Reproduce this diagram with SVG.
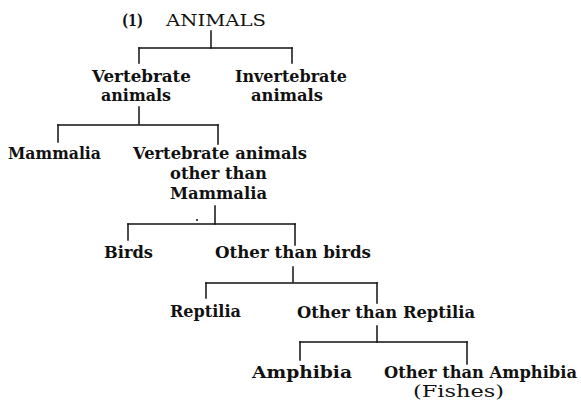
<svg xmlns="http://www.w3.org/2000/svg" width="581" height="401" viewBox="0 0 581 401">
<style>
text{font-family:"DejaVu Serif","Liberation Serif",serif;font-size:16px;font-weight:bold;fill:#111}
.reg{font-weight:normal}
.c line{stroke:#111;stroke-width:1.5;stroke-linecap:square}
</style>
<rect width="581" height="401" fill="#fff"/>
<g id="n-animals">
<text x="122" y="26" textLength="21" lengthAdjust="spacingAndGlyphs">(1)</text>
<text class="reg" x="166" y="26" style="font-size:17px" textLength="100" lengthAdjust="spacingAndGlyphs">ANIMALS</text>
</g>
<g id="n-vertebrate">
<text x="92" y="82" textLength="99" lengthAdjust="spacingAndGlyphs">Vertebrate</text>
<text x="101" y="101" textLength="70" lengthAdjust="spacingAndGlyphs">animals</text>
</g>
<g id="n-invertebrate">
<text x="235" y="82" textLength="112" lengthAdjust="spacingAndGlyphs">Invertebrate</text>
<text x="251" y="101" textLength="72" lengthAdjust="spacingAndGlyphs">animals</text>
</g>
<g id="n-mammalia">
<text x="8" y="159" textLength="93" lengthAdjust="spacingAndGlyphs">Mammalia</text>
</g>
<g id="n-vert-other">
<text x="133" y="159" textLength="174" lengthAdjust="spacingAndGlyphs">Vertebrate animals</text>
<text x="170" y="179" textLength="97" lengthAdjust="spacingAndGlyphs">other than</text>
<text x="170" y="199" textLength="97" lengthAdjust="spacingAndGlyphs">Mammalia</text>
</g>
<g id="n-birds">
<text x="104" y="258" textLength="49" lengthAdjust="spacingAndGlyphs">Birds</text>
</g>
<g id="n-other-birds">
<text x="215" y="258" textLength="156" lengthAdjust="spacingAndGlyphs">Other than birds</text>
</g>
<g id="n-reptilia">
<text x="170" y="317" textLength="71" lengthAdjust="spacingAndGlyphs">Reptilia</text>
</g>
<g id="n-other-reptilia">
<text x="297" y="318" textLength="178" lengthAdjust="spacingAndGlyphs">Other than Reptilia</text>
</g>
<g id="n-amphibia">
<text x="252" y="378" textLength="100" lengthAdjust="spacingAndGlyphs">Amphibia</text>
</g>
<g id="n-other-amphibia">
<text x="384" y="378" textLength="193" lengthAdjust="spacingAndGlyphs">Other than Amphibia</text>
<text class="reg" x="413" y="397" textLength="91" lengthAdjust="spacingAndGlyphs">(Fishes)</text>
</g>
<g id="connectors" class="c">
<line x1="211" y1="31" x2="211" y2="48"/>
<line x1="139" y1="48" x2="292" y2="48"/>
<line x1="139" y1="48" x2="139" y2="63"/>
<line x1="292" y1="48" x2="292" y2="63"/>
<line x1="139" y1="107" x2="139" y2="124"/>
<line x1="58" y1="125" x2="218" y2="125"/>
<line x1="58" y1="125" x2="58" y2="142"/>
<line x1="218" y1="125" x2="218" y2="144"/>
<line x1="215" y1="206" x2="215" y2="224"/>
<line x1="128" y1="224" x2="295" y2="224"/>
<line x1="128" y1="224" x2="128" y2="240"/>
<line x1="295" y1="224" x2="295" y2="245"/>
<line x1="293" y1="267" x2="293" y2="282"/>
<line x1="206" y1="283" x2="377" y2="283"/>
<line x1="206" y1="283" x2="206" y2="298"/>
<line x1="377" y1="283" x2="377" y2="303"/>
<line x1="377" y1="326" x2="377" y2="342"/>
<line x1="300" y1="342" x2="467" y2="342"/>
<line x1="300" y1="342" x2="300" y2="360"/>
<line x1="467" y1="342" x2="467" y2="364"/>
</g>
<circle cx="197" cy="220" r="1" fill="#111"/>
</svg>
